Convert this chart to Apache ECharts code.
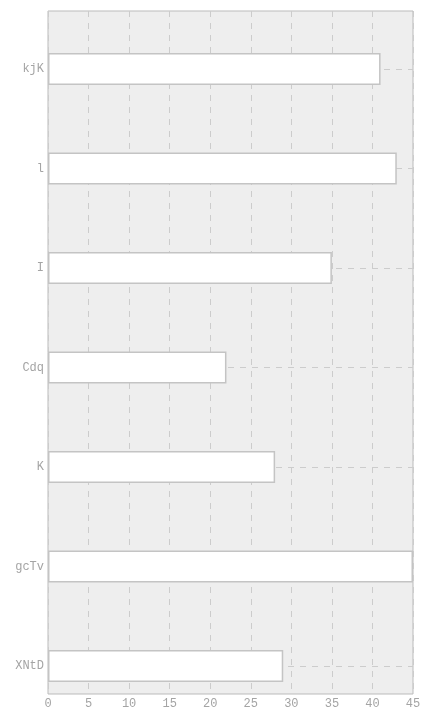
<!DOCTYPE html>
<html><head><meta charset="utf-8">
<script src="https://cdn.jsdelivr.net/npm/echarts@6/dist/echarts.min.js"></script>
<style>html,body{margin:0;padding:0;background:#fff}#c{width:432px;height:720px}</style>
</head><body><div id="c"></div>
<script>
const categories = ['kjK', 'l', 'I', 'Cdq', 'K', 'gcTv', 'XNtD'];
const values = [41, 43, 35, 22, 28, 45, 29];
const xTicks = [0, 5, 10, 15, 20, 25, 30, 35, 40, 45];

const font = '"Courier New", "Liberation Mono", monospace';
const chart = echarts.init(document.getElementById('c'), null, {renderer: 'canvas'});
chart.setOption({
  animation: false,
  grid: [
    {left: 48, right: 19, top: 11, bottom: 26, show: true, backgroundColor: '#eeeeee', borderColor: '#bbbbbb', borderWidth: 1},
    {left: 48, right: 19, top: 69, bottom: 54, show: false}
  ],
  xAxis: [
    {gridIndex: 0, type: 'value', min: xTicks[0], max: xTicks[xTicks.length - 1], interval: 5,
     axisLine: {show: false}, axisTick: {show: false},
     axisLabel: {color: '#a4a4a4', fontFamily: font, fontSize: 12, margin: 4},
     splitLine: {show: true, lineStyle: {color: '#cccccc', type: [6, 6], width: 1}}},
    {gridIndex: 1, type: 'value', min: 0, max: 45, show: false, splitLine: {show: false}}
  ],
  yAxis: [
    {gridIndex: 0, type: 'value', show: false, splitLine: {show: false}},
    {gridIndex: 1, type: 'category', data: categories, inverse: true, boundaryGap: false,
     axisLine: {show: false}, axisTick: {show: false},
     axisLabel: {color: '#a4a4a4', fontFamily: font, fontSize: 12, margin: 4},
     splitLine: {show: true, lineStyle: {color: '#cccccc', type: [6, 6], width: 1}}}
  ],
  series: [{
    type: 'bar', xAxisIndex: 1, yAxisIndex: 1, data: values, barWidth: 32,
    itemStyle: {color: '#ffffff', borderColor: '#c4c4c4', borderWidth: 1.5}
  }]
});
</script></body></html>
